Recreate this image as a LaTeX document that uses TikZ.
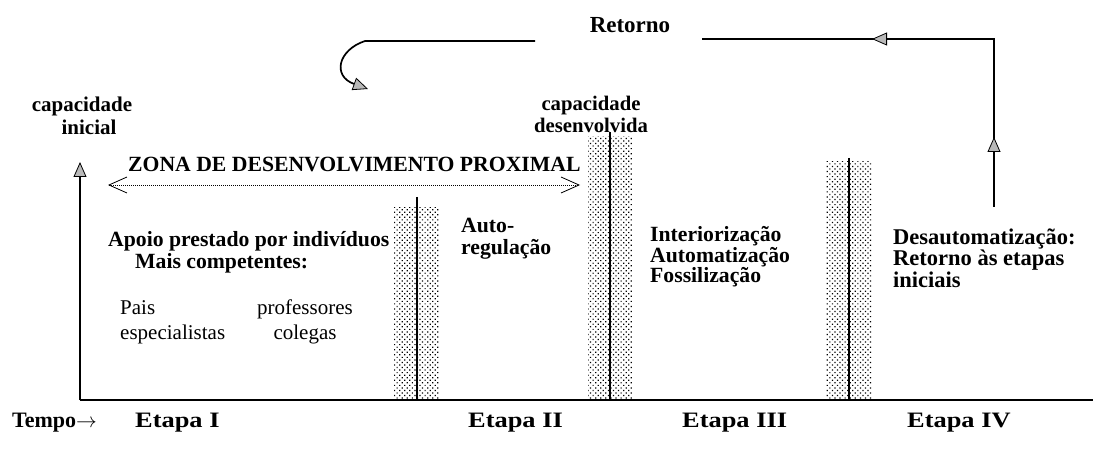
\documentclass[tikz,border=0pt]{standalone}
\usepackage{fontspec}
\setmainfont{Liberation Serif}
\usetikzlibrary{arrows.meta,patterns.meta}
\begin{document}
\begin{tikzpicture}[x=1pt,y=-1pt,
  bt/.style={font=\bfseries\fontsize{21.7}{22}\selectfont, inner sep=0pt},
  rt/.style={font=\fontsize{21}{25}\selectfont, inner sep=0pt},
  et/.style={font=\bfseries\fontsize{22}{24}\selectfont, inner sep=0pt, anchor=west},
  axisline/.style={line width=1.7pt},
  gtri/.tip={Triangle[length=15pt,width=13pt,fill=gray!55,line width=0.8pt]},
  openbarb/.tip={Straight Barb[length=18pt,width=16pt,line width=0.8pt]},
  dotbar/.style={pattern={Dots[radius=0.85pt,distance=3.6pt,angle=45]}},
  barline/.style={line width=2.2pt},
]
\useasboundingbox (0,0) rectangle (1093,449);

% bars
\fill[dotbar] (394,208) rectangle (439,400);
\fill[dotbar] (588,137) rectangle (632,400);
\fill[dotbar] (826,162) rectangle (872,400);
\coordinate (b1t) at (417,197); \coordinate (b1b) at (417,400);
\coordinate (b2t) at (610,132); \coordinate (b2b) at (610,400);
\coordinate (b3t) at (849,158); \coordinate (b3b) at (849,400);
\draw[barline] (b1t) -- (b1b);
\draw[barline] (b2t) -- (b2b);
\draw[barline] (b3t) -- (b3b);

% axes
\coordinate (o) at (80,400);
\coordinate (ytip) at (80,162);
\coordinate (xend) at (1093,400);
\draw[axisline,-{gtri}] (o) -- (ytip);
\draw[axisline] (o) -- (xend);

% ZDP arrow
\coordinate (zl) at (108,185);
\coordinate (zr) at (580,185);
\draw[line width=0.8pt, dash pattern=on 1pt off 1pt, {openbarb}-{openbarb}] (zl) -- (zr);

% return path
\coordinate (r0) at (994,207);
\coordinate (ra) at (994,137);
\coordinate (rc) at (994,39);
\coordinate (rb) at (872,39);
\coordinate (r1) at (702,39);
\draw[axisline] (r0) -- (rc) -- (r1);
\draw[axisline,-{gtri}] (r0) -- (ra);
\draw[axisline,-{gtri}] (rc) -- (rb);
\coordinate (l0) at (535,41);
\coordinate (l1) at (365,41);
\coordinate (l2) at (368,89);
\draw[axisline,-{gtri}] (l0) -- (l1) .. controls (338,50) and (332,76) .. (l2);

% texts
\node[bt, font=\bfseries\fontsize{23}{25}\selectfont] (retorno) at (630,25) {Retorno};
\node[bt, align=center, font=\bfseries\fontsize{21}{23}\selectfont] (capinit) at (82,116) {capacidade\\\hspace*{14pt}inicial};
\node[bt, align=center, font=\bfseries\fontsize{20.7}{22}\selectfont] (capdes) at (591,114) {capacidade\\desenvolvida};
\node[bt, anchor=west] (zona) at (128,164) {ZONA DE DESENVOLVIMENTO PROXIMAL};
\node[bt, anchor=west, align=left] (apoio) at (108,252) {Apoio prestado por indivíduos\\\hspace*{27pt}Mais competentes:};
\node[rt, anchor=west, align=left] (pais) at (120,322) {Pais\\especialistas};
\node[rt, align=center] (prof) at (305,322) {professores\\colegas};
\node[bt, anchor=west, align=left] (auto) at (461,239) {Auto-\\regulação};
\node[bt, anchor=west, align=left, font=\bfseries\fontsize{21.7}{20.5}\selectfont] (inter) at (650,257) {Interiorização\\Automatização\\Fossilização};
\node[bt, anchor=west, align=left, font=\bfseries\fontsize{22.5}{21.5}\selectfont] (desaut) at (893,258) {Desautomatização:\\Retorno às etapas\\iniciais};
\node[et] (tempo) at (12,423) {Tempo$\rightarrow$};
\node[et] (e1) at (135,423) {\scalebox{1.2}[1]{Etapa I}};
\node[et] (e2) at (468,423) {\scalebox{1.2}[1]{Etapa II}};
\node[et] (e3) at (682,423) {\scalebox{1.2}[1]{Etapa III}};
\node[et] (e4) at (907,423) {\scalebox{1.2}[1]{Etapa IV}};
\end{tikzpicture}
\end{document}
